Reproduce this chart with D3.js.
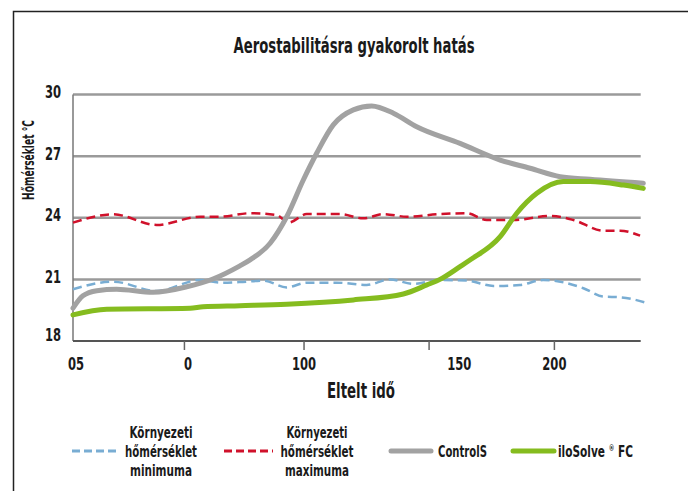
<!DOCTYPE html>
<html>
<head>
<meta charset="utf-8">
<script src="https://cdn.jsdelivr.net/npm/d3@7"></script>
<style>
  body { margin: 0; background: #fff; }
  text { font-family: "DejaVu Sans", sans-serif; font-weight: bold; fill: #1a1a1a; }
</style>
</head>
<body>
<div id="chart"></div>
<script>
// Section 1: data
var yTicks = [18, 21, 24, 27, 30];
var gridValues = [21, 24, 27, 30];
var xTickMarks = [50, 98.3, 148.8, 199.4];
var xTickLabelPos = [6.2, 51.4, 98.3, 161, 199.4];
var xTickLabels = ["05", "0", "100", "150", "200"];

// Környezeti hőmérséklet minimuma (blue dashed)
var minTime = [5, 21.2, 38.8, 56.3, 64.4, 72.4, 81.9, 91.3, 99.4, 111.5, 123.6, 133, 142.4, 153.2, 164, 174.8, 185.5, 194.9, 211.1, 219.2, 225.9, 236];
var minTemp = [20.52, 20.89, 20.43, 20.97, 20.84, 20.87, 20.94, 20.61, 20.84, 20.84, 20.73, 21.0, 20.78, 20.97, 20.94, 20.68, 20.73, 20.97, 20.57, 20.16, 20.13, 19.88];

// Környezeti hőmérséklet maximuma (red dashed)
var maxTime = [5, 21.2, 38.8, 56.3, 64.4, 76.5, 87.3, 92, 99.4, 112.8, 122.2, 130.3, 139.8, 153.2, 164, 172.1, 182.8, 197.7, 207.1, 219.2, 225.9, 234];
var maxTemp = [23.76, 24.17, 23.65, 24.05, 24.05, 24.22, 24.13, 23.76, 24.18, 24.18, 23.97, 24.18, 24.05, 24.18, 24.22, 23.89, 23.89, 24.09, 23.89, 23.37, 23.37, 23.13];

// ControlS (gray)
var controlTime = [5, 9, 14.6, 22.6, 37.3, 50.9, 61.5, 72.4, 76.5, 84.6, 91.3, 98, 103.4, 110.1, 118.2, 125.6, 134.4, 143.8, 161.3, 177.5, 189.6, 201.7, 213.8, 235.3];
var controlTemp = [19.6, 20.2, 20.45, 20.52, 20.37, 20.64, 21.02, 21.66, 21.95, 22.76, 24.05, 25.84, 27.14, 28.52, 29.25, 29.44, 29.09, 28.43, 27.62, 26.81, 26.41, 26.0, 25.87, 25.68];

// iloSolve ® FC (green)
var iloTime = [5, 18.6, 52.3, 57.5, 72.4, 91.3, 118.2, 138.4, 147.9, 153.2, 161.3, 165.3, 177.5, 184.2, 192.3, 203, 213.8, 227.3, 235.3];
var iloTemp = [19.27, 19.54, 19.59, 19.67, 19.72, 19.79, 20.0, 20.29, 20.73, 21.0, 21.62, 21.94, 23.08, 24.22, 25.19, 25.76, 25.76, 25.59, 25.43];

var legendLabels = [
  ["Környezeti", "hőmérséklet", "minimuma"],
  ["Környezeti", "hőmérséklet", "maximuma"],
  ["ControlS"],
  ["iloSolve", "®", "FC"]
];

// Section 2: svg set up
var svgWidth = 688;
var svgHeight = 491;

var svg = d3.select("#chart").append("svg")
  .attr("width", svgWidth)
  .attr("height", svgHeight);

var xScale = d3.scaleLinear()
  .domain([5, 235.3])
  .range([73, 643.3]);

var yScale = d3.scaleLinear()
  .domain([18, 30])
  .range([341, 94.5]);

// the picture uses a condensed face, so squeeze the text to the measured widths
function fitTo(sel, w) {
  sel.attr("textLength", w).attr("lengthAdjust", "spacingAndGlyphs");
}
function condense(sel, k) {
  sel.each(function() {
    d3.select(this)
      .attr("textLength", this.getComputedTextLength() * k)
      .attr("lengthAdjust", "spacingAndGlyphs");
  });
}

// outer frame (only left and top edges show in the picture)
svg.append("path")
  .attr("d", "M13.5,491 V11.5 H688")
  .attr("fill", "none")
  .attr("stroke", "#222")
  .attr("stroke-width", 1.5);

// title
svg.append("text")
  .attr("x", 354)
  .attr("y", 53)
  .attr("text-anchor", "middle")
  .attr("font-size", 22)
  .text("Aerostabilitásra gyakorolt hatás")
  .call(fitTo, 241);

// gridlines
svg.append("g")
  .selectAll("line")
  .data(gridValues)
  .enter()
  .append("line")
  .attr("x1", xScale(5))
  .attr("x2", 640.7)
  .attr("y1", d => yScale(d))
  .attr("y2", d => yScale(d))
  .attr("stroke", "#9a9a9a")
  .attr("stroke-width", 2.5);

// left axis line
svg.append("line")
  .attr("x1", xScale(5))
  .attr("x2", xScale(5))
  .attr("y1", yScale(30))
  .attr("y2", yScale(18))
  .attr("stroke", "#777")
  .attr("stroke-width", 1.5);

// y tick labels
svg.append("g")
  .selectAll("text")
  .data(yTicks)
  .enter()
  .append("text")
  .attr("x", 61)
  .attr("y", d => yScale(d) + (d === 18 ? 0 : 3.5))
  .attr("text-anchor", "end")
  .attr("font-size", 17)
  .text(d => d)
  .call(condense, 0.68);

// y axis label
svg.append("text")
  .attr("transform", "translate(33.5, 160) rotate(-90)")
  .attr("text-anchor", "middle")
  .attr("font-size", 15)
  .text("Hőmérséklet °C")
  .call(fitTo, 80);

// bottom axis line
svg.append("line")
  .attr("x1", xScale(5))
  .attr("x2", 640.7)
  .attr("y1", yScale(18))
  .attr("y2", yScale(18))
  .attr("stroke", "#555")
  .attr("stroke-width", 2);

// x tick marks
svg.append("g")
  .selectAll("line")
  .data(xTickMarks)
  .enter()
  .append("line")
  .attr("x1", d => xScale(d))
  .attr("x2", d => xScale(d))
  .attr("y1", yScale(18))
  .attr("y2", yScale(18) + 9)
  .attr("stroke", "#666")
  .attr("stroke-width", 1.5);

// x tick labels
svg.append("g")
  .selectAll("text")
  .data(xTickLabels)
  .enter()
  .append("text")
  .attr("x", (d, i) => xScale(xTickLabelPos[i]))
  .attr("y", 370)
  .attr("text-anchor", "middle")
  .attr("font-size", 17)
  .text(d => d)
  .call(condense, 0.68);

// x axis label
svg.append("text")
  .attr("x", 361)
  .attr("y", 398)
  .attr("text-anchor", "middle")
  .attr("font-size", 21)
  .text("Eltelt idő")
  .call(fitTo, 68);

// Section 3: lines
function pairs(xs, ys) {
  return xs.map((x, i) => [x, ys[i]]);
}

var line = d3.line()
  .x(d => xScale(d[0]))
  .y(d => yScale(d[1]))
  .curve(d3.curveMonotoneX);

var series = [
  { data: pairs(minTime, minTemp), color: "#79add3", width: 2.5, dash: "9,5" },
  { data: pairs(maxTime, maxTemp), color: "#d0112b", width: 2.5, dash: "9,5" },
  { data: pairs(controlTime, controlTemp), color: "#a2a2a2", width: 5, dash: null },
  { data: pairs(iloTime, iloTemp), color: "#85bc1f", width: 5, dash: null }
];

svg.append("g")
  .selectAll("path")
  .data(series)
  .enter()
  .append("path")
  .attr("d", d => line(d.data))
  .attr("fill", "none")
  .attr("stroke", d => d.color)
  .attr("stroke-width", d => d.width)
  .attr("stroke-dasharray", d => d.dash)
  .attr("stroke-linecap", d => d.dash ? "butt" : "round")
  .attr("stroke-linejoin", "round");

// Section 4: legend
var legendItems = [
  { x1: 72, x2: 118, textX: 161, widths: [63, 72, 62] },
  { x1: 224, x2: 273, textX: 317, widths: [61, 73, 64] },
  { x1: 391, x2: 431, textX: 438, widths: [49] },
  { x1: 513, x2: 554, textX: 558, widths: [75] }
];
var legendY = 451;

var legend = svg.append("g");

legendItems.forEach(function(item, i) {
  var s = series[i];
  legend.append("line")
    .attr("x1", item.x1)
    .attr("x2", item.x2)
    .attr("y1", legendY)
    .attr("y2", legendY)
    .attr("stroke", s.color)
    .attr("stroke-width", s.dash ? 3 : 5)
    .attr("stroke-dasharray", s.dash ? "8,4" : null)
    .attr("stroke-linecap", s.dash ? "butt" : "round");

  var lines = legendLabels[i];
  if (i < 2) {
    lines.forEach(function(t, j) {
      legend.append("text")
        .attr("x", item.textX)
        .attr("y", legendY - 13 + j * 19)
        .attr("text-anchor", "middle")
        .attr("font-size", 15)
        .text(t)
        .call(fitTo, item.widths[j]);
    });
  } else if (i === 2) {
    legend.append("text")
      .attr("x", item.textX)
      .attr("y", legendY + 6)
      .attr("font-size", 15)
      .text(lines[0])
      .call(fitTo, item.widths[0]);
  } else {
    // one text element, the ® sign is a small raised tspan
    var t = legend.append("text")
      .attr("x", item.textX)
      .attr("y", legendY + 6)
      .attr("font-size", 15);
    t.append("tspan").text(lines[0] + " ");
    t.append("tspan").attr("font-size", 8).attr("dy", -6).text(lines[1]);
    t.append("tspan").attr("dy", 6).text(" " + lines[2]);
    t.call(fitTo, item.widths[0]);
  }
});
</script>
</body>
</html>
